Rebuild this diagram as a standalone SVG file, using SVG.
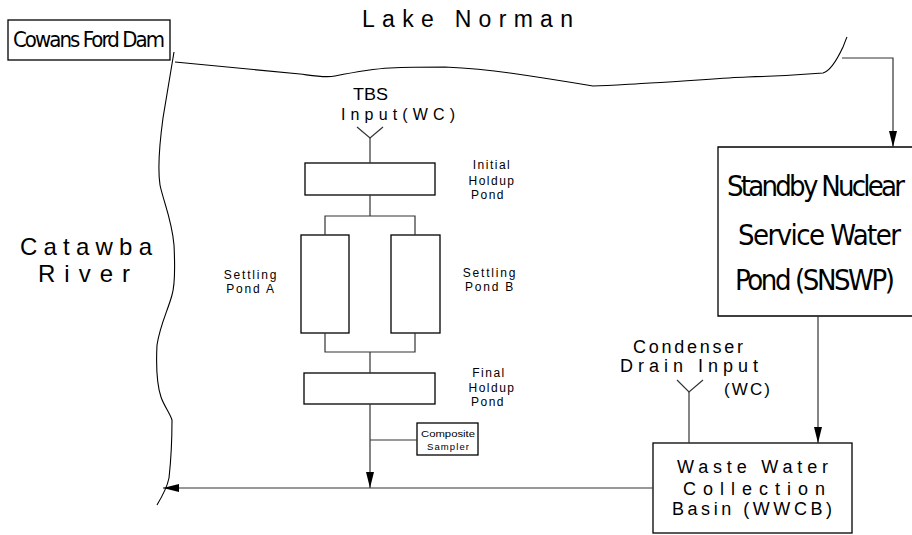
<svg xmlns="http://www.w3.org/2000/svg" width="912" height="535" viewBox="0 0 912 535">
<defs>
<marker id="ah" markerUnits="userSpaceOnUse" markerWidth="17" markerHeight="9" refX="16" refY="4" orient="auto">
<path d="M0,0 L16,4 L0,8 z" fill="#000"/>
</marker>
<style>
.t{font-family:"Liberation Sans","DejaVu Sans",sans-serif;fill:#000;}
.n{font-family:"Liberation Sans Narrow","DejaVu Sans Condensed","Liberation Sans",sans-serif;fill:#000;}
.box{fill:#fff;stroke:#000;stroke-width:1.3;}
.ln{fill:none;stroke:#333;stroke-width:1.2;}
.shore{fill:none;stroke:#000;stroke-width:1.1;}
</style>
</defs>
<rect width="912" height="535" fill="#fff"/>

<g id="shoreline">
<path class="shore" d="M175,62 C230,67 280,72 300,74 C315,76 325,78 335,76 C355,72 370,69 390,68 C410,67 430,67 445,67 C470,68 490,70 510,73 C545,78 575,83 593,86 C610,86 630,84 650,83 C690,81 720,78 747,77 C780,76 810,74 823,73 C830,71 836,62 843,47 C845,42 846,39 847,37"/>
<path class="shore" d="M174,52 L163,118 C160,140 157,165 160,185 C163,200 172,220 174,245 C175,265 175,285 172,295 C168,310 160,325 157,345 C156,365 157,385 161,397 C164,406 170,413 172,420 C172,440 171,460 169,478 C167,488 163,495 157,505"/>
</g>

<g id="cowans-ford-dam">
<rect class="box" x="8" y="20" width="162" height="40"/>
<text class="n" x="13" y="47" font-size="22" textLength="152" lengthAdjust="spacing">Cowans Ford Dam</text>
</g>

<g id="lake-norman">
<text class="t" x="362" y="27" font-size="23" textLength="211" lengthAdjust="spacing">Lake Norman</text>
</g>

<g id="catawba-river">
<text class="t" x="20" y="255" font-size="24" textLength="132" lengthAdjust="spacing">Catawba</text>
<text class="t" x="38" y="282" font-size="24" textLength="92" lengthAdjust="spacing">River</text>
</g>

<g id="tbs-input">
<text class="t" x="353" y="100" font-size="16" textLength="35" lengthAdjust="spacingAndGlyphs">TBS</text>
<text class="t" x="341" y="120" font-size="16" textLength="114" lengthAdjust="spacing">Input(WC)</text>
<path class="ln" d="M357,127 L370,138 L383,127"/>
</g>

<g id="initial-holdup-pond">
<rect class="box" x="305" y="163" width="130" height="32"/>
<text class="t" x="492" y="169" font-size="12" text-anchor="middle" letter-spacing="1.5">Initial</text>
<text class="t" x="492" y="185" font-size="12" text-anchor="middle" letter-spacing="1.5">Holdup</text>
<text class="t" x="488" y="199" font-size="12" text-anchor="middle" letter-spacing="1.5">Pond</text>
</g>

<g id="settling-pond-a">
<rect class="box" x="301" y="235" width="48" height="98"/>
<text class="t" x="251" y="279" font-size="12" text-anchor="middle" letter-spacing="1.8">Settling</text>
<text class="t" x="251" y="293" font-size="12" text-anchor="middle" letter-spacing="1.8">Pond A</text>
</g>

<g id="settling-pond-b">
<rect class="box" x="391" y="235" width="49" height="98"/>
<text class="t" x="490" y="277" font-size="12" text-anchor="middle" letter-spacing="1.8">Settling</text>
<text class="t" x="490" y="291" font-size="12" text-anchor="middle" letter-spacing="1.8">Pond B</text>
</g>

<g id="final-holdup-pond">
<rect class="box" x="304" y="373" width="131" height="31"/>
<text class="t" x="489" y="377" font-size="12" text-anchor="middle" letter-spacing="1.5">Final</text>
<text class="t" x="492" y="392" font-size="12" text-anchor="middle" letter-spacing="1.5">Holdup</text>
<text class="t" x="488" y="406" font-size="12" text-anchor="middle" letter-spacing="1.5">Pond</text>
</g>

<g id="composite-sampler">
<rect class="box" x="417" y="423" width="61" height="32" stroke-width="1"/>
<text class="t" x="421" y="437" font-size="9.5" textLength="54" lengthAdjust="spacingAndGlyphs">Composite</text>
<text class="t" x="427" y="450" font-size="9.5" textLength="42" lengthAdjust="spacing">Sampler</text>
</g>

<g id="snswp">
<rect x="718" y="147" width="194" height="169" fill="#fff"/>
<path d="M912,147 L718,147 L718,316 L912,316" fill="none" stroke="#000" stroke-width="1.3"/>
<text class="n" x="727" y="196" font-size="29" textLength="178" lengthAdjust="spacing">Standby Nuclear</text>
<text class="n" x="738" y="245" font-size="29" textLength="163" lengthAdjust="spacing">Service Water</text>
<text class="n" x="735" y="290" font-size="29" textLength="160" lengthAdjust="spacing">Pond (SNSWP)</text>
</g>

<g id="condenser-drain-input">
<text class="t" x="633" y="353" font-size="18" textLength="110" lengthAdjust="spacing">Condenser</text>
<text class="t" x="620" y="372" font-size="18" textLength="138" lengthAdjust="spacing">Drain Input</text>
<text class="t" x="724" y="395" font-size="17" textLength="46" lengthAdjust="spacing">(WC)</text>
<path class="ln" d="M677,380 L689,392 L703,380"/>
</g>

<g id="wwcb">
<rect class="box" x="653" y="443" width="199" height="90"/>
<text class="t" x="677" y="473" font-size="18" textLength="151" lengthAdjust="spacing">Waste Water</text>
<text class="t" x="683" y="495" font-size="18" textLength="142" lengthAdjust="spacing">Collection</text>
<text class="t" x="672" y="515" font-size="18" textLength="160" lengthAdjust="spacing">Basin (WWCB)</text>
</g>

<g id="connectors">
<path class="ln" d="M842,58 L893,58 L893,147" marker-end="url(#ah)"/>
<path class="ln" d="M818,316 L818,443" marker-end="url(#ah)"/>
<path class="ln" d="M689,392 L689,443"/>
<path class="ln" d="M370,138 L370,163"/>
<path class="ln" d="M370,195 L370,216 M325,235 L325,216 L415,216 L415,235"/>
<path class="ln" d="M325,333 L325,352 L415,352 L415,333 M370,352 L370,373"/>
<path class="ln" d="M370,404 L370,488" marker-end="url(#ah)"/>
<path class="ln" d="M370,440 L417,440"/>
<path class="ln" d="M653,488 L163,488" marker-end="url(#ah)"/>
</g>
</svg>
